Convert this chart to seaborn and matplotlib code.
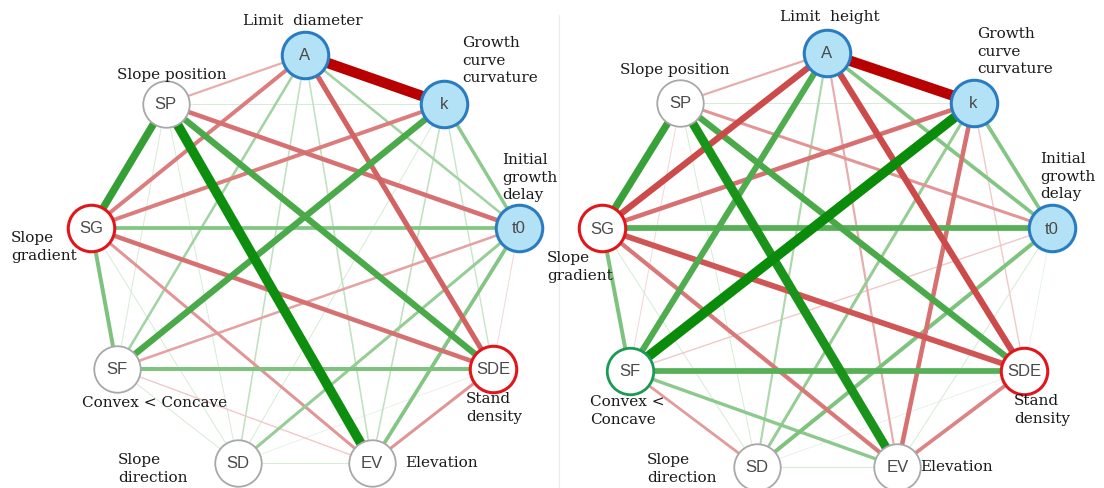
import numpy as np
import pandas as pd
import matplotlib
matplotlib.use("Agg")
import matplotlib.pyplot as plt
import seaborn as sns

# ---------------------------------------------------------------- data
nodes = ["A", "k", "t0", "SDE", "EV", "SD", "SF", "SG", "SP"]

pairs = [
    ("A", "k"), ("A", "t0"), ("A", "SDE"), ("A", "EV"), ("A", "SD"), ("A", "SF"), ("A", "SG"), ("A", "SP"),
    ("k", "t0"), ("k", "SDE"), ("k", "EV"), ("k", "SD"), ("k", "SF"), ("k", "SG"), ("k", "SP"),
    ("t0", "SDE"), ("t0", "EV"), ("t0", "SD"), ("t0", "SF"), ("t0", "SG"), ("t0", "SP"),
    ("SDE", "EV"), ("SDE", "SD"), ("SDE", "SF"), ("SDE", "SG"), ("SDE", "SP"),
    ("EV", "SD"), ("EV", "SF"), ("EV", "SG"), ("EV", "SP"),
    ("SD", "SF"), ("SD", "SG"), ("SD", "SP"),
    ("SF", "SG"), ("SF", "SP"),
    ("SG", "SP"),
]

# correlation coefficients, limit-diameter model
diameter_r = [
    -0.85, 0.18, -0.40, 0.10, 0.10, 0.18, -0.30, -0.15,
    0.25, 0.08, 0.10, 0.05, 0.50, -0.30, 0.05,
    -0.05, 0.28, 0.22, -0.18, 0.28, -0.35,
    -0.22, 0.03, 0.30, -0.35, 0.50,
    0.05, -0.08, -0.22, 0.78,
    0.05, 0.05, 0.05,
    0.30, 0.05,
    0.60,
]

# correlation coefficients, limit-height model
height_r = [
    -0.85, 0.28, -0.50, -0.15, 0.15, 0.48, -0.50, -0.15,
    0.28, -0.08, -0.35, 0.22, 0.80, -0.35, 0.05,
    0.03, 0.05, 0.30, -0.08, 0.45, -0.22,
    -0.28, 0.03, 0.45, -0.45, 0.50,
    0.05, 0.25, -0.32, 0.72,
    -0.20, 0.05, 0.05,
    0.30, -0.05,
    0.58,
]

diameter_labels = {
    "A": "Limit  diameter", "k": "Growth\ncurve\ncurvature", "t0": "Initial\ngrowth\ndelay",
    "SDE": "Stand\ndensity", "EV": "Elevation", "SD": "Slope\ndirection",
    "SF": "Convex < Concave", "SG": "Slope\ngradient", "SP": "Slope position",
}
height_labels = dict(diameter_labels, A="Limit  height", SF="Convex <\nConcave")

# node ring groups
diameter_rings = {"A": "param", "k": "param", "t0": "param", "SDE": "neg", "SG": "neg"}
height_rings = {"A": "param", "k": "param", "t0": "param", "SDE": "neg", "SG": "neg", "SF": "pos"}

# ---------------------------------------------------------------- layout / style
W, H = 1104, 488
angles = np.deg2rad([90, 50, 10, -30, -72, -108, -150, 170, 130])

panels = [
    dict(cx=305, cy=264, rx=217, ry=209, r=diameter_r, labels=diameter_labels, rings=diameter_rings,
         text_pos={"A": (303, 21, "center", "center"), "k": (462, 36, "left", "top"),
                   "t0": (502, 153, "left", "top"), "SDE": (466, 392, "left", "top"),
                   "EV": (405, 463, "left", "center"), "SD": (118, 453, "left", "top"),
                   "SF": (155, 403, "center", "center"), "SG": (11, 231, "left", "top"),
                   "SP": (172, 75, "center", "center")}),
    dict(cx=827, cy=265, rx=228, ry=212, r=height_r, labels=height_labels, rings=height_rings,
         text_pos={"A": (830, 17, "center", "center"), "k": (977, 27, "left", "top"),
                   "t0": (1040, 152, "left", "top"), "SDE": (1014, 394, "left", "top"),
                   "EV": (920, 467, "left", "center"), "SD": (647, 453, "left", "top"),
                   "SF": (590, 395, "left", "top"), "SG": (547, 251, "left", "top"),
                   "SP": (675, 70, "center", "center")}),
]

ring_style = {
    "param": dict(fill="#b3e1f5", edge="#2a7cc0", lw=2.2),
    "neg": dict(fill="#ffffff", edge="#e0161b", lw=2.2),
    "pos": dict(fill="#ffffff", edge="#1b9a55", lw=2.0),
    None: dict(fill="#ffffff", edge="#a8a8a8", lw=1.3),
}

POS_FULL = np.array([0.0, 0.53, 0.0])
NEG_FULL = np.array([0.72, 0.0, 0.0])
R_MAX = 0.85


def edge_color(v):
    a = min(1.0, abs(v) / R_MAX) ** 0.65
    full = POS_FULL if v > 0 else NEG_FULL
    return tuple(1 - a * (1 - full))


sns.set_theme(style="white")
plt.rcParams["font.family"] = ["DejaVu Sans"]

fig = plt.figure(figsize=(W / 100, H / 100), dpi=100)
ax = fig.add_axes([0, 0, 1, 1])
ax.set_xlim(0, W)
ax.set_ylim(H, 0)
ax.axis("off")

# faint frame line between panels
ax.plot([559, 559], [15, H], color="#ececec", lw=0.8, zorder=0)

for p in panels:
    pos = {n: (p["cx"] + p["rx"] * np.cos(t), p["cy"] - p["ry"] * np.sin(t))
           for n, t in zip(nodes, angles)}

    edges = pd.DataFrame({"u": [a for a, _ in pairs], "v": [b for _, b in pairs], "r": p["r"]})
    edges["mag"] = edges["r"].abs()
    edges = edges.sort_values("mag")
    for i, e in enumerate(edges.itertuples()):
        (x0, y0), (x1, y1) = pos[e.u], pos[e.v]
        ax.plot([x0, x1], [y0, y1], color=edge_color(e.r), lw=0.3 + 8.5 * e.mag,
                solid_capstyle="butt", zorder=1 + i * 0.01)

    node_df = pd.DataFrame({"node": nodes,
                            "x": [pos[n][0] for n in nodes],
                            "y": [pos[n][1] for n in nodes],
                            "ring": [p["rings"].get(n) for n in nodes]})
    for row in node_df.itertuples():
        st = ring_style[row.ring]
        sns.scatterplot(x=[row.x], y=[row.y], ax=ax, s=1120, color=st["fill"],
                        edgecolor=st["edge"], linewidth=st["lw"], zorder=5, legend=False)
        ax.text(row.x, row.y + 1, row.node, ha="center", va="center", fontsize=12,
                color="#4a4a4a", family=["Liberation Sans", "DejaVu Sans"], zorder=6)

    for n in nodes:
        tx, ty, ha, va = p["text_pos"][n]
        ax.text(tx, ty, p["labels"][n], ha=ha, va=va, fontsize=11, color="#1a1a1a",
                family=["DejaVu Serif"], linespacing=1.32, zorder=7)

fig.savefig("out.png", dpi=100, facecolor="white")
